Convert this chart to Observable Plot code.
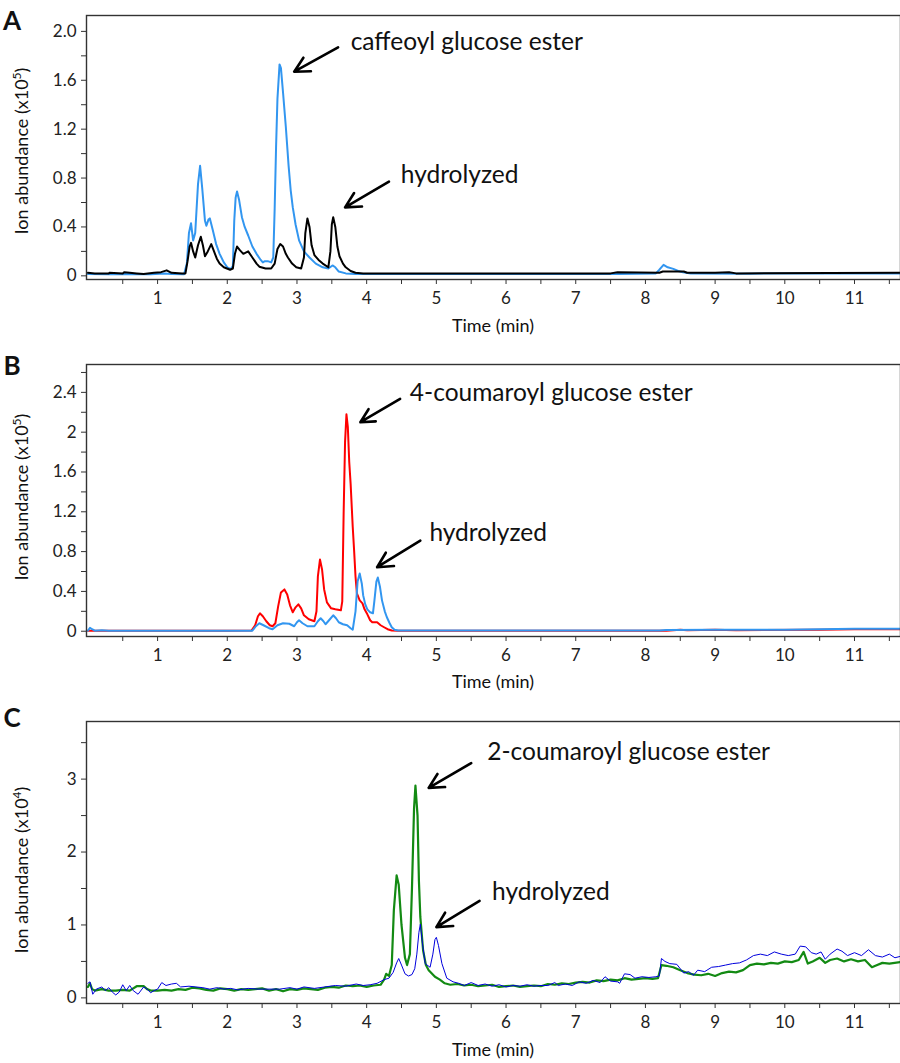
<!DOCTYPE html>
<html><head><meta charset="utf-8">
<script src="https://cdn.jsdelivr.net/npm/d3@7"></script>
<script src="https://cdn.jsdelivr.net/npm/@observablehq/plot@0.6"></script>
<style>
body{margin:0;background:#fff;font-family:Lato,"Open Sans",sans-serif}
#wrap{width:900px;overflow:hidden}
#wrap svg{display:block}
</style>
</head><body><div id="wrap"></div>
<script>
// ---- Data (time in min, ion abundance) ----
const xTickValues = d3.range(0.5, 11.6, 0.5);

// Panel A (x10^5)
const caffeoylA = [[0,0.015],[0.3,0.012],[0.6,0.015],[0.9,0.012],[1.1,0.02],[1.2,0.015],[1.38,0.012],[1.42,0.1],[1.45,0.35],[1.48,0.43],[1.51,0.29],[1.54,0.35],[1.58,0.75],[1.61,0.90],[1.64,0.72],[1.68,0.45],[1.70,0.41],[1.73,0.46],[1.75,0.47],[1.79,0.38],[1.84,0.26],[1.89,0.18],[1.95,0.11],[2.0,0.07],[2.05,0.055],[2.08,0.08],[2.10,0.45],[2.12,0.64],[2.14,0.69],[2.17,0.62],[2.21,0.48],[2.25,0.40],[2.30,0.33],[2.36,0.24],[2.42,0.18],[2.48,0.13],[2.51,0.11],[2.54,0.12],[2.58,0.12],[2.63,0.11],[2.66,0.15],[2.68,0.55],[2.70,1.05],[2.72,1.45],[2.75,1.73],[2.77,1.70],[2.80,1.50],[2.84,1.22],[2.88,0.90],[2.91,0.70],[2.94,0.56],[2.98,0.42],[3.03,0.29],[3.10,0.20],[3.18,0.15],[3.27,0.10],[3.37,0.07],[3.45,0.06],[3.51,0.085],[3.55,0.07],[3.60,0.035],[3.70,0.02],[3.84,0.016],[4.5,0.016],[6,0.016],[7.6,0.016],[8.15,0.02],[8.2,0.05],[8.26,0.09],[8.32,0.07],[8.40,0.057],[8.47,0.04],[8.54,0.03],[8.65,0.02],[9.5,0.018],[10.5,0.02],[11.66,0.02]];
const hydrolyzedA = [[0,0.025],[0.1,0.02],[0.3,0.02],[0.31,0.025],[0.5,0.02],[0.52,0.03],[0.6,0.025],[0.7,0.02],[0.8,0.015],[0.95,0.025],[1.05,0.03],[1.13,0.045],[1.2,0.025],[1.35,0.02],[1.40,0.02],[1.43,0.12],[1.46,0.24],[1.48,0.27],[1.51,0.2],[1.54,0.15],[1.58,0.25],[1.62,0.32],[1.65,0.25],[1.68,0.16],[1.72,0.20],[1.77,0.26],[1.81,0.2],[1.85,0.14],[1.89,0.10],[1.95,0.07],[2.04,0.05],[2.08,0.06],[2.11,0.18],[2.14,0.24],[2.18,0.21],[2.23,0.18],[2.30,0.20],[2.36,0.15],[2.42,0.10],[2.46,0.075],[2.55,0.06],[2.63,0.06],[2.68,0.1],[2.72,0.22],[2.76,0.26],[2.80,0.24],[2.84,0.18],[2.87,0.15],[2.93,0.1],[2.99,0.07],[3.06,0.06],[3.10,0.15],[3.12,0.35],[3.15,0.47],[3.18,0.40],[3.21,0.25],[3.25,0.17],[3.31,0.13],[3.37,0.10],[3.45,0.07],[3.48,0.2],[3.50,0.42],[3.52,0.48],[3.55,0.40],[3.58,0.24],[3.61,0.16],[3.66,0.1],[3.70,0.07],[3.77,0.04],[3.84,0.025],[3.95,0.02],[5,0.02],[7.5,0.02],[7.6,0.03],[8.2,0.025],[8.25,0.035],[8.55,0.035],[8.6,0.025],[9.0,0.025],[9.2,0.03],[9.3,0.02],[11.66,0.025]];

// Panel B (x10^5)
const coumaroyl4B = [[0,0.005],[0.5,0.005],[1.0,0.005],[2.0,0.005],[2.35,0.008],[2.40,0.06],[2.44,0.15],[2.47,0.18],[2.51,0.15],[2.56,0.10],[2.61,0.06],[2.65,0.05],[2.69,0.08],[2.73,0.25],[2.77,0.39],[2.82,0.42],[2.86,0.37],[2.90,0.26],[2.94,0.19],[2.98,0.24],[3.02,0.27],[3.06,0.23],[3.10,0.16],[3.17,0.12],[3.25,0.10],[3.28,0.2],[3.30,0.55],[3.33,0.72],[3.36,0.62],[3.39,0.42],[3.43,0.29],[3.49,0.23],[3.55,0.22],[3.63,0.21],[3.65,0.3],[3.67,1.2],[3.69,1.9],[3.71,2.18],[3.73,2.05],[3.75,1.70],[3.77,1.48],[3.80,1.05],[3.82,0.81],[3.84,0.55],[3.86,0.38],[3.90,0.31],[3.94,0.28],[3.97,0.22],[4.01,0.17],[4.05,0.11],[4.08,0.09],[4.12,0.09],[4.15,0.09],[4.20,0.06],[4.25,0.04],[4.30,0.02],[4.36,0.007],[4.45,0.004],[6,0.004],[8.3,0.005],[8.5,0.015],[8.6,0.01],[9.0,0.015],[9.3,0.01],[10.5,0.015],[11.0,0.02],[11.66,0.02]];
const hydrolyzedB = [[0,0.005],[0.03,0.035],[0.06,0.02],[0.1,0.005],[0.2,0.01],[0.3,0.005],[1.0,0.005],[2.0,0.005],[2.36,0.006],[2.41,0.05],[2.46,0.08],[2.52,0.06],[2.6,0.03],[2.65,0.02],[2.72,0.06],[2.80,0.08],[2.89,0.075],[2.96,0.05],[3.0,0.09],[3.03,0.11],[3.08,0.08],[3.15,0.05],[3.25,0.05],[3.30,0.1],[3.34,0.13],[3.38,0.1],[3.41,0.07],[3.46,0.11],[3.52,0.16],[3.56,0.13],[3.60,0.09],[3.66,0.07],[3.72,0.06],[3.77,0.03],[3.80,0.015],[3.84,0.2],[3.87,0.5],[3.90,0.58],[3.93,0.48],[3.95,0.36],[3.98,0.27],[4.01,0.22],[4.05,0.19],[4.09,0.18],[4.11,0.3],[4.14,0.5],[4.16,0.54],[4.19,0.45],[4.22,0.31],[4.26,0.2],[4.29,0.14],[4.33,0.08],[4.36,0.04],[4.40,0.015],[4.45,0.007],[6,0.007],[8.2,0.008],[8.3,0.012],[9,0.015],[10,0.015],[10.5,0.02],[11,0.025],[11.66,0.025]];

// Panel C (x10^4)
const coumaroyl2C = [[0,0.15],[0.03,0.2],[0.06,0.12],[0.1,0.1],[0.2,0.12],[0.3,0.1],[0.4,0.1],[0.5,0.11],[0.6,0.1],[0.7,0.16],[0.8,0.16],[0.85,0.12],[0.9,0.1],[1.0,0.1],[1.1,0.11],[1.2,0.1],[1.3,0.12],[1.4,0.11],[1.5,0.14],[1.6,0.13],[1.7,0.11],[1.8,0.1],[1.9,0.13],[2.0,0.12],[2.1,0.1],[2.2,0.12],[2.3,0.11],[2.4,0.12],[2.5,0.13],[2.6,0.1],[2.7,0.12],[2.8,0.09],[2.9,0.12],[3.0,0.11],[3.1,0.13],[3.2,0.12],[3.3,0.11],[3.4,0.14],[3.5,0.15],[3.6,0.14],[3.7,0.17],[3.8,0.16],[3.9,0.17],[4.0,0.15],[4.1,0.17],[4.2,0.18],[4.25,0.25],[4.28,0.33],[4.32,0.3],[4.36,0.45],[4.39,1.2],[4.43,1.68],[4.46,1.55],[4.50,1.0],[4.55,0.55],[4.58,0.45],[4.62,0.6],[4.65,1.5],[4.68,2.6],[4.70,2.91],[4.73,2.5],[4.75,1.6],[4.77,1.11],[4.81,0.65],[4.85,0.45],[4.89,0.38],[4.98,0.29],[5.05,0.25],[5.12,0.20],[5.2,0.18],[5.3,0.19],[5.4,0.17],[5.5,0.18],[5.6,0.16],[5.7,0.17],[5.8,0.18],[5.9,0.15],[6.0,0.16],[6.1,0.17],[6.2,0.15],[6.3,0.16],[6.4,0.17],[6.5,0.16],[6.6,0.19],[6.7,0.18],[6.8,0.2],[6.9,0.19],[7.0,0.21],[7.1,0.22],[7.2,0.21],[7.3,0.24],[7.4,0.23],[7.5,0.25],[7.6,0.24],[7.7,0.27],[7.8,0.25],[7.9,0.26],[8.0,0.27],[8.1,0.26],[8.18,0.27],[8.23,0.45],[8.3,0.44],[8.4,0.42],[8.5,0.38],[8.6,0.34],[8.7,0.32],[8.8,0.31],[8.9,0.33],[9.0,0.3],[9.1,0.34],[9.2,0.36],[9.3,0.35],[9.4,0.38],[9.5,0.45],[9.6,0.47],[9.7,0.46],[9.8,0.48],[9.9,0.47],[10.0,0.5],[10.1,0.49],[10.2,0.52],[10.27,0.63],[10.33,0.47],[10.4,0.5],[10.5,0.55],[10.58,0.48],[10.65,0.52],[10.75,0.54],[10.85,0.5],[10.95,0.53],[11.05,0.5],[11.15,0.52],[11.25,0.42],[11.3,0.44],[11.4,0.48],[11.5,0.47],[11.66,0.49]];
const hydrolyzedC = [[0,0.2],[0.03,0.22],[0.07,0.05],[0.12,0.12],[0.2,0.15],[0.25,0.1],[0.3,0.14],[0.35,0.08],[0.4,0.04],[0.45,0.08],[0.5,0.18],[0.55,0.1],[0.6,0.17],[0.65,0.1],[0.72,0.05],[0.8,0.15],[0.85,0.12],[0.9,0.07],[0.95,0.1],[1.0,0.12],[1.06,0.21],[1.12,0.17],[1.2,0.19],[1.27,0.2],[1.33,0.15],[1.45,0.16],[1.55,0.15],[1.65,0.14],[1.75,0.12],[1.85,0.14],[1.95,0.12],[2.05,0.13],[2.15,0.11],[2.3,0.13],[2.45,0.12],[2.6,0.12],[2.75,0.12],[2.9,0.14],[3.0,0.12],[3.1,0.15],[3.25,0.13],[3.4,0.15],[3.55,0.17],[3.7,0.16],[3.85,0.19],[3.95,0.17],[4.05,0.18],[4.15,0.2],[4.25,0.25],[4.32,0.27],[4.38,0.35],[4.43,0.48],[4.46,0.54],[4.5,0.45],[4.55,0.33],[4.6,0.3],[4.65,0.32],[4.69,0.4],[4.72,0.6],[4.75,0.9],[4.77,1.01],[4.80,0.75],[4.84,0.47],[4.91,0.42],[4.95,0.6],[4.98,0.8],[5.0,0.83],[5.03,0.72],[5.08,0.47],[5.15,0.27],[5.24,0.22],[5.32,0.2],[5.4,0.17],[5.5,0.21],[5.6,0.17],[5.7,0.19],[5.8,0.16],[5.9,0.18],[6.0,0.15],[6.1,0.17],[6.2,0.16],[6.3,0.18],[6.4,0.16],[6.5,0.17],[6.6,0.17],[6.7,0.21],[6.75,0.17],[6.85,0.19],[6.95,0.17],[7.05,0.22],[7.15,0.2],[7.25,0.24],[7.35,0.21],[7.42,0.29],[7.5,0.23],[7.6,0.22],[7.63,0.2],[7.7,0.33],[7.78,0.32],[7.85,0.27],[7.95,0.29],[8.05,0.28],[8.15,0.29],[8.2,0.3],[8.23,0.54],[8.28,0.5],[8.35,0.47],[8.45,0.46],[8.55,0.34],[8.62,0.36],[8.69,0.31],[8.75,0.38],[8.85,0.36],[8.95,0.42],[9.05,0.43],[9.15,0.45],[9.25,0.47],[9.35,0.48],[9.45,0.52],[9.55,0.58],[9.65,0.6],[9.75,0.58],[9.85,0.63],[9.95,0.6],[10.05,0.58],[10.15,0.6],[10.22,0.71],[10.3,0.7],[10.38,0.62],[10.45,0.6],[10.52,0.63],[10.58,0.53],[10.65,0.6],[10.75,0.67],[10.82,0.64],[10.9,0.58],[11.0,0.62],[11.1,0.58],[11.2,0.66],[11.3,0.58],[11.4,0.56],[11.5,0.6],[11.58,0.55],[11.66,0.57]];

// Annotations: arrow [x1,y1,x2,y2], label [x,y,text]
const arrowsA = [[3.59,1.87,2.96,1.67],[4.32,0.77,3.69,0.56]];
const labelsA = [[3.77,1.91,"caffeoyl glucose ester"],[4.49,0.82,"hydrolyzed"]];
const arrowsB = [[4.48,2.335,3.91,2.10],[4.77,0.91,4.15,0.643]];
const labelsB = [[4.62,2.39,"4-coumaroyl glucose ester"],[4.90,0.99,"hydrolyzed"]];
const arrowsC = [[5.5,3.22,4.89,2.88],[5.62,1.33,5.0,0.97]];
const labelsC = [[5.73,3.37,"2-coumaroyl glucose ester"],[5.80,1.45,"hydrolyzed"]];

const yTicksA = d3.range(0, 2.11, 0.2).map(v => +v.toFixed(1));
const yLabelsA = [0, 0.4, 0.8, 1.2, 1.6, 2.0];
const yTicksB = d3.range(0, 2.61, 0.2).map(v => +v.toFixed(1));
const yLabelsB = [0, 0.4, 0.8, 1.2, 1.6, 2, 2.4];
const yTicksC = d3.range(0, 3.51, 0.5).map(v => +v.toFixed(1));
const yLabelsC = [0, 1, 2, 3];

const FONT = "Lato, 'Open Sans', sans-serif";

function panel(cfg) {
  const lines = cfg.series.map(s => Plot.line(s.data, {x: d => d[0], y: d => d[1], stroke: s.color, strokeWidth: s.width}));
  const chart = Plot.plot({
    width: 900, height: cfg.height,
    marginLeft: 86, marginRight: 0, marginTop: cfg.mt, marginBottom: cfg.mb,
    style: {fontFamily: FONT, fontSize: "17px", color: "#222", background: "#fff", overflow: "visible"},
    x: {domain: [-0.02, 11.66]},
    y: {domain: cfg.ydomain},
    marks: [
      ...lines,
      Plot.frame({stroke: "#333", strokeWidth: 1.4}),
      Plot.axisX({ticks: xTickValues, tickSize: 5, tickPadding: 7, tickFormat: d => Number.isInteger(d) ? String(d) : "", label: null, stroke: "#333"}),
      Plot.axisY({ticks: cfg.yticks, tickSize: 5, tickPadding: 5, tickFormat: d => cfg.ylabels.includes(d) ? cfg.fmt(d) : "", label: null, stroke: "#333"}),
      Plot.arrow(cfg.arrows, {x1: d => d[0], y1: d => d[1], x2: d => d[2], y2: d => d[3], stroke: "#000", strokeWidth: 2.6, headLength: 13, headAngle: 55}),
      Plot.text(cfg.labels, {x: d => d[0], y: d => d[1], text: d => d[2], textAnchor: "start", fontSize: 24.5, fill: "#111"})
    ]
  });
  const svg = d3.select(chart);
  svg.append("text").attr("x", 12).attr("y", cfg.letterY).attr("font-family", FONT).attr("font-weight", "bold").attr("font-size", 26).attr("fill", "#111").text(cfg.letter);
  const yl = svg.append("text").attr("transform", `translate(28,${cfg.ylabelY}) rotate(-90)`).attr("text-anchor", "middle").attr("font-family", FONT).attr("font-size", 18).attr("fill", "#111");
  yl.append("tspan").text("Ion abundance (x10");
  yl.append("tspan").attr("font-size", 12).attr("dy", -7).text(cfg.exp);
  yl.append("tspan").attr("dy", 7).text(")");
  svg.append("text").attr("x", 493).attr("y", cfg.xlabelY).attr("text-anchor", "middle").attr("font-family", FONT).attr("font-size", 18).attr("fill", "#111").text("Time (min)");
  document.getElementById("wrap").appendChild(chart);
}

panel({letter: "A", letterY: 30, height: 340, mt: 15, mb: 61, ydomain: [-0.03, 2.13], yticks: yTicksA, ylabels: yLabelsA, fmt: d => d === 0 ? "0" : d.toFixed(1), exp: "5", ylabelY: 151, xlabelY: 332,
  series: [{data: caffeoylA, color: "#3296f0", width: 2}, {data: hydrolyzedA, color: "#000", width: 2}], arrows: arrowsA, labels: labelsA});
panel({letter: "B", letterY: 35, height: 360, mt: 24, mb: 64, ydomain: [-0.053, 2.68], yticks: yTicksB, ylabels: yLabelsB, fmt: d => String(d), exp: "5", ylabelY: 157, xlabelY: 348,
  series: [{data: coumaroyl4B, color: "#ff0000", width: 2}, {data: hydrolyzedB, color: "#3296f0", width: 2}], arrows: arrowsB, labels: labelsB});
panel({letter: "C", letterY: 27, height: 363, mt: 21, mb: 60, ydomain: [-0.077, 3.79], yticks: yTicksC, ylabels: yLabelsC, fmt: d => String(d), exp: "4", ylabelY: 170, xlabelY: 356,
  series: [{data: coumaroyl2C, color: "#138a13", width: 2.2}, {data: hydrolyzedC, color: "#0000dd", width: 1}], arrows: arrowsC, labels: labelsC});
</script>
</body></html>
